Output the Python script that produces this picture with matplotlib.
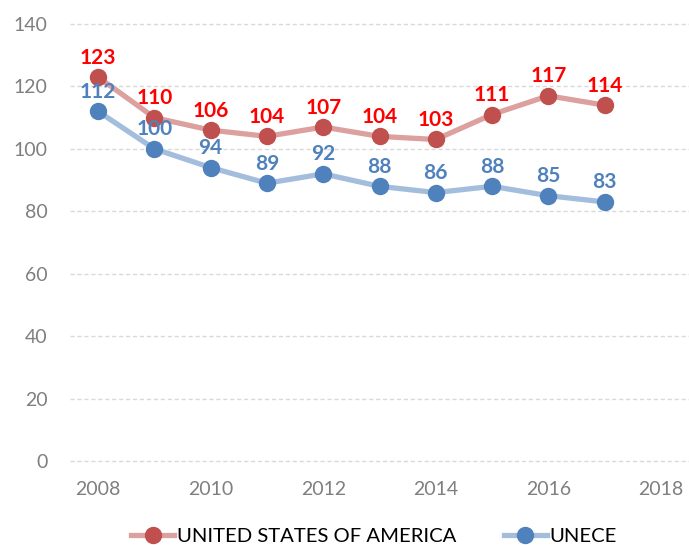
import matplotlib.pyplot as plt

years = [2008, 2009, 2010, 2011, 2012, 2013, 2014, 2015, 2016, 2017]
usa = [123, 110, 106, 104, 107, 104, 103, 111, 117, 114]
unece = [112, 100, 94, 89, 92, 88, 86, 88, 85, 83]
xticks = [2008, 2010, 2012, 2014, 2016, 2018]
yticks = [0, 20, 40, 60, 80, 100, 120, 140]

plt.rcParams["font.family"] = ["Lato", "DejaVu Sans"]

fig = plt.figure(figsize=(6.89, 5.45), dpi=100)
ax = fig.add_axes([0.1016, 0.154, 0.8984, 0.802])

ax.plot(years, usa, color="#DCA09F", lw=3.8, marker="o", ms=11.5,
        mfc="#C0504D", mec="#C0504D", label="UNITED STATES OF AMERICA", zorder=3)
ax.plot(years, unece, color="#A3BDDD", lw=3.8, marker="o", ms=11.5,
        mfc="#4F81BD", mec="#4F81BD", label="UNECE", zorder=3)

for x, y in zip(years, usa):
    ax.annotate(str(y), (x, y), xytext=(0, 14), textcoords="offset points",
                ha="center", va="center", color="#FF0000", fontsize=15, fontweight="bold")
for x, y in zip(years, unece):
    ax.annotate(str(y), (x, y), xytext=(0, 14), textcoords="offset points",
                ha="center", va="center", color="#4F81BD", fontsize=15, fontweight="bold")

ax.set_xlim(2007.5, 2018.5)
ax.set_ylim(0, 140)
ax.set_xticks(xticks)
ax.set_yticks(yticks)
ax.tick_params(axis="x", length=0, labelsize=14, labelcolor="#7F7F7F", pad=14)
ax.tick_params(axis="y", length=0, labelsize=14, labelcolor="#7F7F7F", pad=16)
ax.grid(axis="y", color="#D9D9D9", ls=(0, (3, 2)), lw=1)
ax.grid(axis="x", visible=False)
for gl in ax.get_ygridlines():
    gl.set_clip_on(False)
ax.set_axisbelow(True)
for s in ax.spines.values():
    s.set_visible(False)

leg = fig.legend(loc="center", bbox_to_anchor=(0.543, 0.0165), ncol=2, frameon=False,
                 fontsize=14.6, columnspacing=2.35, handlelength=2.1, handletextpad=0.15)

fig.savefig("out.png", dpi=100)
